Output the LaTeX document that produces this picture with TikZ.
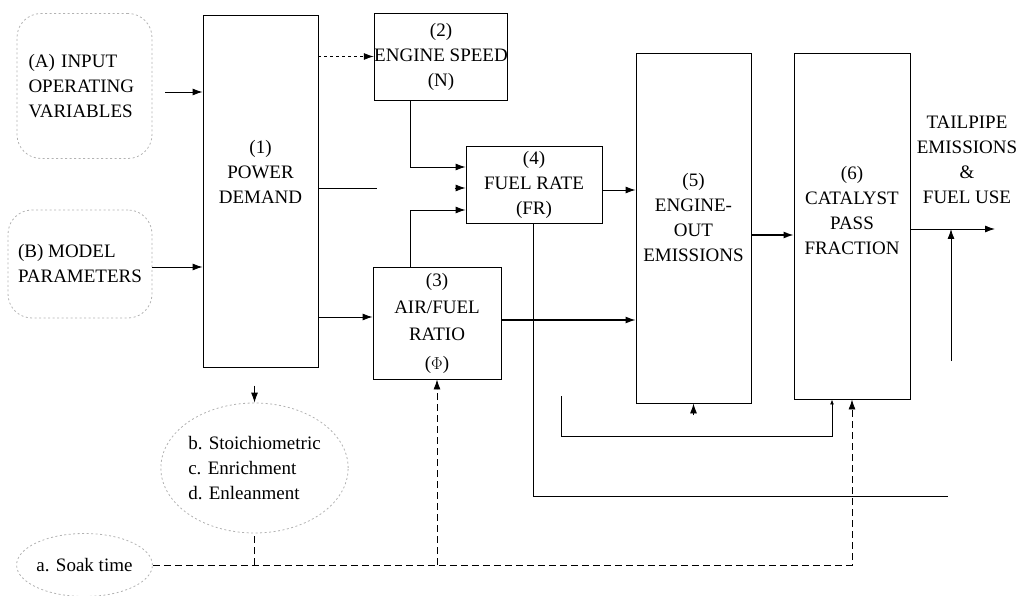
\documentclass[tikz,border=0pt]{standalone}
\usepackage{fontspec}
\setmainfont{Liberation Serif}
\usetikzlibrary{arrows.meta,calc,shapes.geometric}

\newcommand{\diagfont}{\fontsize{19}{25}\selectfont}

\begin{document}
\begin{tikzpicture}[x=1pt, y=-1pt,
  % Node styles
  block/.style={draw, line width=0.9pt, inner sep=0pt},
  source/.style={draw=gray!60, dash pattern=on 2pt off 2.5pt, line width=0.8pt,
                 rounded corners=24pt, inner sep=0pt, font=\diagfont},
  cloud/.style={ellipse, draw=gray!60, dash pattern=on 2pt off 2.5pt, line width=0.8pt,
                inner sep=0pt, font=\diagfont},
  lbl/.style={font=\diagfont, align=center, inner sep=0pt},
  % Edge styles
  flow/.style={-{Latex[length=10pt,width=7pt]}, line width=0.9pt},
  link/.style={line width=0.9pt},
  soak/.style={dash pattern=on 7pt off 4pt, line width=0.9pt},
]
\useasboundingbox (0,0) rectangle (1023,596);

% === INPUTS (left) ===
\node[source, minimum width=135pt, minimum height=145pt, align=left,
      text width=112pt] (A) at (84.5,86)
  {(A) INPUT\\OPERATING\\VARIABLES};
\node[source, minimum width=144pt, minimum height=108pt, align=left] (B) at (80,264)
  {(B) MODEL\\PARAMETERS};

% === MODEL BLOCKS ===
\node[block, minimum width=115pt, minimum height=352pt] (PD) at (260.5,191) {};
\node[lbl] (PDtxt) at ($(PD)+(0,-19)$) {(1)\\POWER\\DEMAND};

\node[block, minimum width=122pt, minimum height=87pt, lbl, draw] (ES) at (441,56.5)
  {(2)\\ENGINE SPEED\\(N)};
\node[block, minimum width=136pt, minimum height=77pt, lbl, draw] (FR) at (534,184.5)
  {(4)\\FUEL RATE\\(FR)};
\node[block, minimum width=128pt, minimum height=112pt, lbl, draw] (AF) at (437,323)
  {(3)\\[2pt]AIR/FUEL\\[2pt]RATIO\\[4pt]($\Phi$)};

\node[block, minimum width=115pt, minimum height=350pt] (EO) at (693.5,228) {};
\node[lbl] (EOtxt) at ($(EO)+(0,-10)$) {(5)\\ENGINE-\\OUT\\EMISSIONS};
\node[block, minimum width=116pt, minimum height=346pt] (CP) at (852,226) {};
\node[lbl] (CPtxt) at ($(CP)+(0,-15)$) {(6)\\CATALYST\\PASS\\FRACTION};

\node[lbl] (Out) at (967,160) {TAILPIPE\\EMISSIONS\\\&\\FUEL USE};

% === OPERATING MODES (bottom) ===
\node[cloud, minimum width=173pt, minimum height=130pt, align=left] (Mix) at (254.5,468)
  {b. Stoichiometric\\c. Enrichment\\d. Enleanment};
\node[cloud, minimum width=135pt, minimum height=63pt] (Soak) at (84.5,565) {a. Soak time};

\coordinate (tail)   at (995,229);
\coordinate (fuelup) at (951,361);
\coordinate (fuelend) at (948,496);

% ============================================================
% 1. MAIN FLOW (solid)
% ============================================================
\draw[flow] ($(A.east)+(13,6)$) -- (PD.west |- 0,92);
\draw[flow] (B.east |- 0,267) -- (PD.west |- 0,267);
\draw[flow, dashed] (PD.east |- ES.west) -- (ES.west);
\draw[link] (PD.east |- 0,188) -- ++(59,0);
\draw[flow] ($(FR.west |- 0,188)+(-11,0)$) -- (FR.west |- 0,188);
\draw[flow] (ES.south -| 410,0) |- (FR.west |- 0,167);
\draw[flow] (AF.north -| 410,0) |- (FR.west |- 0,210);
\draw[flow] (PD.east |- 0,317) -- (AF.west |- 0,317);
\draw[flow] (FR.east |- 0,190) -- (EO.west |- 0,190);
\draw[flow, line width=1.2pt] (AF.east |- 0,320) -- (EO.west |- 0,320);
\draw[flow, line width=1.3pt] (EO.east |- 0,235) -- (CP.west |- 0,235);
\draw[flow] (CP.east |- tail) -- (tail);
\draw[flow] (fuelup) -- (fuelup |- tail);

% ============================================================
% 2. FEEDBACK LINES (solid, thin)
% ============================================================
\draw[link] (FR.south -| 533,0) |- (fuelend);
\draw[link, -{Latex[length=5pt,width=4pt]}] (561,396) |- (832,436) -- (CP.south -| 832,0);
\draw[flow] ($(EO.south)+(0,12)$) -- (EO.south);

% ============================================================
% 3. SOAK / MODE CONTROL (dashed)
% ============================================================
\draw[soak, -{Latex[length=10pt,width=7pt]}] ($(Mix.north)+(0,-17)$) -- (Mix.north);
\draw[soak, -{Latex[length=10pt,width=7pt]}] (Soak.east) -| (CP.south);
\draw[soak, -{Latex[length=10pt,width=7pt]}] (AF.south |- Soak.east) -- (AF.south);
\draw[soak] (Mix.south |- Soak.east) -- (Mix.south);

\end{tikzpicture}
\end{document}
